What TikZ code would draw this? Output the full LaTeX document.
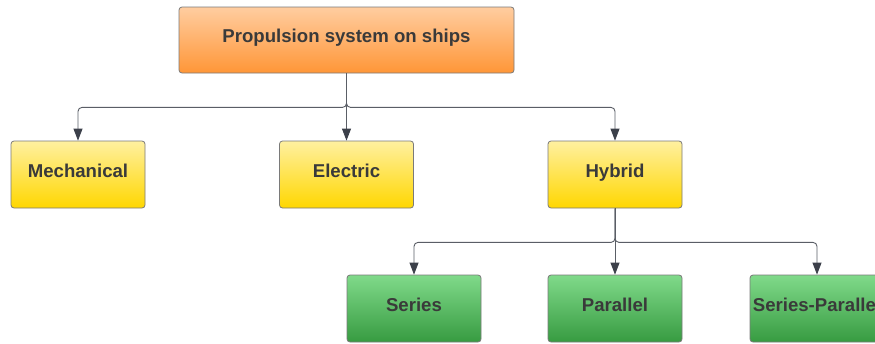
\documentclass[tikz,border=0pt]{standalone}
\usepackage{fontspec}
\setmainfont{Liberation Sans}
\usetikzlibrary{arrows.meta}
\definecolor{txt}{HTML}{3A3A3A}
\definecolor{edge}{HTML}{5A5E66}
\definecolor{tip}{HTML}{3C404A}
\definecolor{rim}{HTML}{7A7A7A}
\tikzset{
  box/.style={draw=rim, line width=0.8pt, rounded corners=3pt, minimum width=134pt,
    minimum height=67pt, inner sep=0pt, font=\fontsize{18.6}{21}\selectfont\bfseries, text=txt,
    text height=0.72em, text depth=0.2em},
  rootbox/.style={box, minimum width=335pt, minimum height=66pt, top color={rgb,255:red,255;green,205;blue,160}, bottom color={rgb,255:red,255;green,150;blue,55}},
  yelbox/.style={box, top color={rgb,255:red,255;green,240;blue,160}, bottom color={rgb,255:red,255;green,215;blue,0}},
  grnbox/.style={box, top color={rgb,255:red,128;green,218;blue,138}, bottom color={rgb,255:red,55;green,155;blue,65}},
  link/.style={draw=edge, line width=0.9pt, rounded corners=4pt, -{Triangle[width=9pt,length=12pt,color=tip]}}
}
\begin{document}
\begin{tikzpicture}[x=1pt,y=-1pt]
\useasboundingbox (0,0) rectangle (875,343);
\clip (0,0) rectangle (875,343);
\fill[white] (0,0) rectangle (875,343);
% boxes
\node[rootbox] (root) at (346.5,40) {Propulsion system on ships};
\node[yelbox] (mech) at (78,174.5) {Mechanical};
\node[yelbox] (elec) at (346.5,174.5) {Electric};
\node[yelbox] (hyb) at (615,174.5) {Hybrid};
\node[grnbox] (ser) at (414,308.5) {Series};
\node[grnbox] (par) at (615,308.5) {Parallel};
\node[grnbox] (serpar) at (817,308.5) {Series-Parallel};
% connectors
\draw[link] (root.south) |- ++(0,34) -| (mech.north);
\draw[link] (root.south) -- (elec.north);
\draw[link] (root.south) |- ++(0,34) -| (hyb.north);
\draw[link] (hyb.south) |- ++(0,34) -| (ser.north);
\draw[link] (hyb.south) -- (par.north);
\draw[link] (hyb.south) |- ++(0,34) -| (serpar.north);
\end{tikzpicture}
\end{document}
